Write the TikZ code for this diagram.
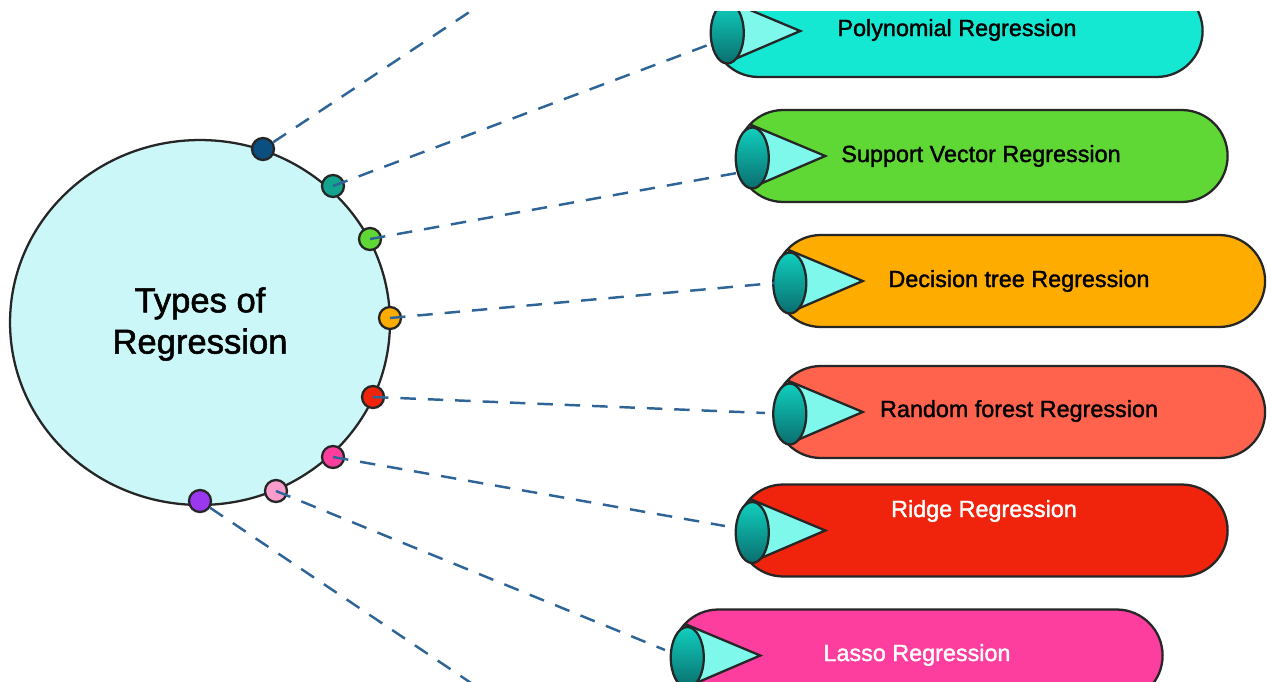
\documentclass[tikz,border=0pt]{standalone}
\usepackage{fontspec}
\setmainfont{Liberation Sans}
\newfontfamily\medfont[FakeBold=1.5]{Liberation Sans}
\usetikzlibrary{shapes.geometric,shapes.misc}
\definecolor{hubfill}{HTML}{CCF7F8}
\definecolor{dashblue}{HTML}{2F6496}
\definecolor{conefill}{HTML}{7FF8EC}
\definecolor{captop}{HTML}{10CFBE}
\definecolor{capbottom}{HTML}{0A6E6E}
\definecolor{polyc}{HTML}{14E8D2}
\definecolor{svrc}{HTML}{5FD835}
\definecolor{treec}{HTML}{FFAC00}
\definecolor{forestc}{HTML}{FF634D}
\definecolor{ridgec}{HTML}{F0230C}
\definecolor{lassoc}{HTML}{FD3E9F}
\tikzset{
  pill/.style={draw=black!85,line width=1.3pt,rounded rectangle,minimum width=10.04cm,minimum height=1.84cm},
  dot/.style={draw=black!85,line width=1.3pt,circle,minimum size=0.44cm,inner sep=0pt},
  link/.style={dash pattern=on 8.8pt off 6.8pt,draw=dashblue,line width=1.4pt},
  tag/.style={font=\medfont\fontsize{13.3}{16}\selectfont}
}
% cone on the left end of a pill
\newcommand{\cone}[1]{
\begin{scope}[shift={(#1.west)}]
\draw [fill=conefill,line width=1.3pt,draw=black!85] (15,-31) -- (89,0) -- (26,27) -- cycle;
\draw [top color=captop,bottom color=capbottom,line width=1.3pt,draw=black!85] (16,2) ellipse (16.5 and 30.5);
\end{scope}
}
\begin{document}
\begin{tikzpicture}[x=0.02cm,y=-0.02cm]
\useasboundingbox (0,0) rectangle (1267,682);
\begin{scope}
\clip (0,12) rectangle (1267,682);
% hub
\node (hub) [ellipse,draw=black!85,line width=1.3pt,fill=hubfill,minimum width=7.6cm,minimum height=7.3cm,inner sep=0pt] at (200,322.5) {};
\node (hubtext) [align=center,font=\medfont\fontsize{19.7}{23.5}\selectfont] at (200,324) {Types of\\Regression};
% dots on the rim
\node (d0) [dot,fill={rgb,255:red,10;green,79;blue,128}] at (263,149) {};
\node (d1) [dot,fill={rgb,255:red,18;green,164;blue,143}] at (333,186) {};
\node (d2) [dot,fill=svrc] at (370,239) {};
\node (d3) [dot,fill=treec] at (390,318) {};
\node (d4) [dot,fill=ridgec] at (373,397) {};
\node (d5) [dot,fill=lassoc] at (333,457) {};
\node (d6) [dot,fill={rgb,255:red,251;green,156;blue,203}] at (276,491) {};
\node (d7) [dot,fill={rgb,255:red,154;green,56;blue,240}] at (200,501) {};
% pills
\node (poly) [pill,fill=polyc] at (957.5,31) {};
\node (svr) [pill,fill=svrc] at (982.5,156) {};
\node (tree) [pill,fill=treec] at (1020,281) {};
\node (forest) [pill,fill=forestc] at (1020,412) {};
\node (ridge) [pill,fill=ridgec] at (982.5,530.5) {};
\node (lasso) [pill,fill=lassoc] at (917.5,655.5) {};
\cone{poly}
\cone{svr}
\cone{tree}
\cone{forest}
\cone{ridge}
\cone{lasso}
\node (polytext) [tag] at (957,30) {Polynomial Regression};
\node (svrtext) [tag] at (981,156) {Support Vector Regression};
\node (treetext) [tag] at (1019,281) {Decision tree Regression};
\node (foresttext) [tag] at (1019,411) {Random forest Regression};
\node (ridgetext) [tag,text=white] at (984,511) {Ridge Regression};
\node (lassotext) [tag,text=white] at (917,655) {Lasso Regression};
% free ends of the links
\coordinate (e0) at (480,5);
\coordinate (e1) at (708,45);
\coordinate (e2) at (737,173);
\coordinate (e3) at (775,283);
\coordinate (e4) at (765,413);
\coordinate (e5) at (725,526);
\coordinate (e6) at (665,650);
\coordinate (e7) at (480,689);
\draw [link] (d0) -- (e0);
\draw [link] (d1.center) -- (e1);
\draw [link] (d2.center) -- (e2);
\draw [link] (d3.center) -- (e3);
\draw [link] (d4.center) -- (e4);
\draw [link] (d5.center) -- (e5);
\draw [link] (d6.center) -- (e6);
\draw [link] (d7) -- (e7);
\end{scope}
\end{tikzpicture}
\end{document}
